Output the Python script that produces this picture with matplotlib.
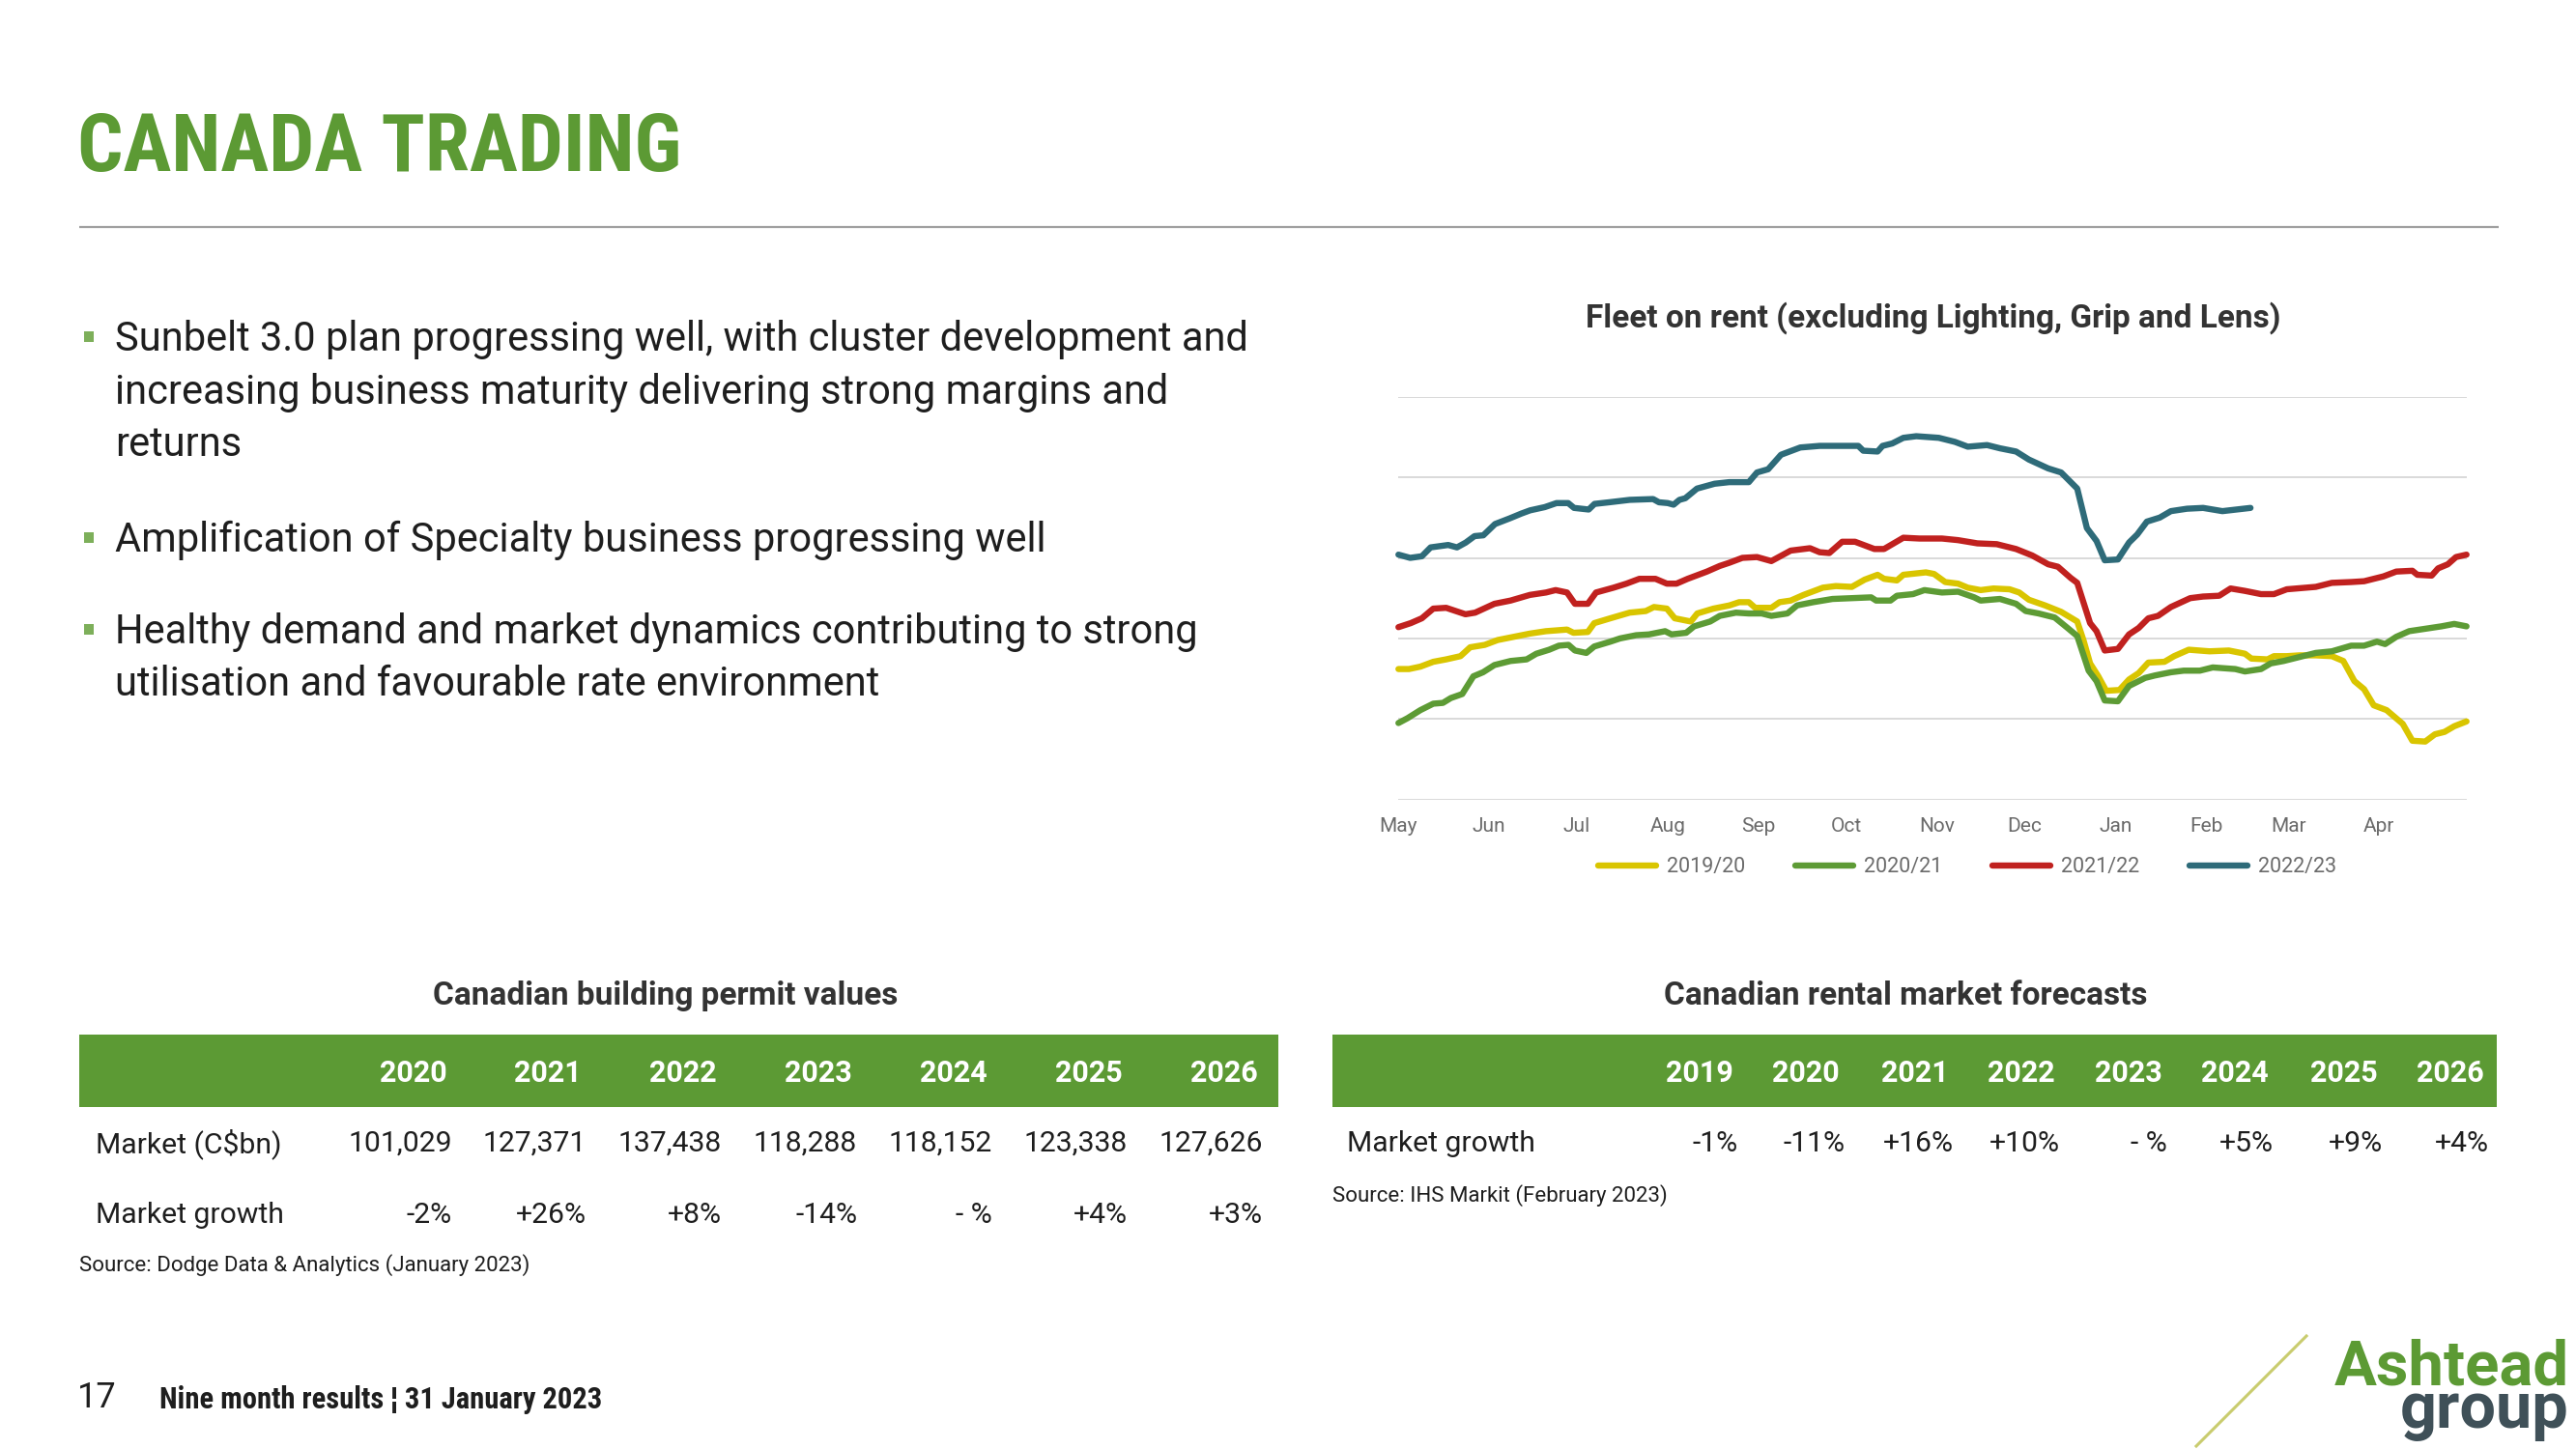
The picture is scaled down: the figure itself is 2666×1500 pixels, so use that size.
import matplotlib
matplotlib.use("Agg")
import matplotlib.pyplot as plt
from matplotlib import font_manager as fm
from matplotlib.patches import Rectangle
from matplotlib.lines import Line2D

# ---------------- data ----------------
months = ["May", "Jun", "Jul", "Aug", "Sep", "Oct", "Nov", "Dec", "Jan", "Feb", "Mar", "Apr"]
month_days = [0, 31, 61, 92, 123, 153, 184, 214, 245, 276, 304, 335]

series_labels = ["2019/20", "2020/21", "2021/22", "2022/23"]

d_1920 = [0, 3.6, 7.5, 11.9, 16.3, 21.2, 24.5, 29.5, 33.9, 39.4, 44.9, 50.4, 57.6, 59.8, 64.7, 66.9,
          72.4, 79, 84.5, 87.3, 91.7, 94.4, 99.9, 102.1, 107.6, 113.1, 116.4, 119.7, 121.9, 127.4,
          130.2, 134, 138.4, 145, 149.4, 154.9, 159.3, 163.7, 165.9, 170.3, 172.5, 180.2, 183,
          186.8, 191.2, 194.5, 198.9, 203.3, 208.8, 212.1, 215.4, 220.9, 226.4, 231.9, 234.1,
          236.3, 239.1, 241.8, 246.3, 249.6, 252.9, 256.2, 261.7, 265, 270, 277.1, 283.7, 289.2,
          291.4, 296.9, 299.1, 303.5, 307.9, 313.4, 318.9, 322.8, 326.6, 329.9, 333.2, 337.6,
          343.1, 346.4, 350.8, 354.1, 357.4, 360.7, 364.9]
v_1920 = [1.62, 1.62, 1.65, 1.71, 1.74, 1.78, 1.89, 1.92, 1.98, 2.02, 2.06, 2.09, 2.11, 2.07, 2.08, 2.19,
          2.25, 2.32, 2.34, 2.39, 2.37, 2.25, 2.21, 2.31, 2.37, 2.41, 2.45, 2.45, 2.38, 2.38,
          2.45, 2.47, 2.54, 2.63, 2.65, 2.64, 2.73, 2.79, 2.74, 2.72, 2.79, 2.82, 2.80,
          2.70, 2.68, 2.63, 2.60, 2.62, 2.61, 2.57, 2.48, 2.41, 2.33, 2.21, 1.97,
          1.69, 1.53, 1.35, 1.36, 1.49, 1.57, 1.70, 1.71, 1.78, 1.86, 1.84, 1.85, 1.81,
          1.75, 1.74, 1.78, 1.78, 1.79, 1.79, 1.78, 1.72, 1.47, 1.37, 1.17, 1.11,
          0.94, 0.73, 0.72, 0.81, 0.84, 0.91, 0.97]

d_2021 = [0, 3.1, 7.5, 11.9, 15.2, 17.9, 21.8, 25.6, 28.9, 32.8, 38.3, 43.8, 47.1, 51.5, 54.8, 58.1,
          60.3, 64.2, 66.9, 72.4, 75.7, 81.2, 85.6, 91.1, 93.3, 98.3, 101, 106.5, 109.8, 115.3,
          119.7, 124.1, 127.4, 132.9, 136.2, 141.7, 148.3, 154.9, 161.5, 163.2, 168.1, 170.3,
          175.8, 179.7, 185.7, 191.2, 196.7, 198.9, 205.5, 211, 214.3, 218.7, 224.2, 228.6,
          231.9, 235.8, 238.5, 241.3, 245.8, 249.6, 255.1, 258.4, 263.9, 268.3, 273.8, 278.2,
          285.9, 289.2, 294.7, 298, 302.4, 307.9, 313.4, 318.9, 325.5, 329.9, 334.3, 337.1,
          340.9, 345.3, 350.8, 356.3, 360.7, 364.9]
v_2021 = [0.95, 1.01, 1.11, 1.19, 1.20, 1.26, 1.31, 1.53, 1.58, 1.67, 1.72, 1.74, 1.81, 1.86, 1.91, 1.92,
          1.85, 1.82, 1.90, 1.96, 2.00, 2.04, 2.05, 2.09, 2.05, 2.07, 2.15, 2.21, 2.28, 2.32,
          2.31, 2.31, 2.28, 2.31, 2.41, 2.45, 2.49, 2.50, 2.51, 2.47, 2.47, 2.53,
          2.55, 2.60, 2.57, 2.58, 2.51, 2.47, 2.49, 2.43, 2.34, 2.31, 2.26, 2.13,
          2.03, 1.60, 1.47, 1.23, 1.22, 1.41, 1.51, 1.54, 1.58, 1.60, 1.60, 1.64,
          1.62, 1.59, 1.62, 1.69, 1.72, 1.77, 1.82, 1.84, 1.91, 1.91, 1.96, 1.93,
          2.02, 2.09, 2.12, 2.15, 2.18, 2.15]

d_2122 = [0, 4.2, 8, 11.9, 16.3, 22.9, 26.2, 32.8, 38.3, 44.9, 50.4, 53.7, 57.6, 60.3, 64.7, 67.5,
          73.5, 77.9, 82.3, 87.8, 91.7, 95, 98.8, 105.4, 109.8, 113.1, 117.5, 122.5, 127.4, 134,
          140.6, 143.9, 147.2, 151.6, 156, 162.6, 165.9, 172.5, 178, 185.7, 191.2, 197.8, 204.4,
          211, 216.5, 222, 225.3, 229.7, 231.9, 236.3, 238.5, 241.3, 245.8, 249.6, 252.9, 256.2,
          259.5, 263.9, 270.5, 274.9, 280.4, 284.3, 289.2, 294.7, 299.1, 303.5, 313.4, 318.9,
          325.5, 329.9, 336.5, 340.9, 346.4, 348.1, 353, 355.2, 358.5, 361.3, 364.9]
v_2122 = [2.14, 2.19, 2.25, 2.37, 2.38, 2.30, 2.32, 2.43, 2.47, 2.54, 2.57, 2.60, 2.57, 2.43, 2.43, 2.57,
          2.63, 2.68, 2.74, 2.74, 2.68, 2.68, 2.74, 2.83, 2.90, 2.94, 3.00, 3.01, 2.96, 3.09,
          3.12, 3.07, 3.06, 3.20, 3.20, 3.11, 3.11, 3.25, 3.24, 3.24, 3.22, 3.18, 3.17,
          3.11, 3.03, 2.92, 2.89, 2.75, 2.69, 2.19, 2.09, 1.85, 1.87, 2.05, 2.13, 2.25,
          2.28, 2.39, 2.50, 2.52, 2.53, 2.62, 2.59, 2.55, 2.55, 2.61, 2.64, 2.69,
          2.70, 2.71, 2.77, 2.83, 2.84, 2.79, 2.78, 2.87, 2.92, 3.01, 3.04]

d_2223 = [0, 4, 8, 11, 17, 20, 23, 26, 29, 33, 38, 42, 45, 50, 54, 58, 60, 65, 67, 72, 79, 87, 89,
          92, 94, 96, 98, 102, 108, 113, 119.7, 122.5, 126.3, 130.7, 137.3, 143.9, 157.1, 158.8,
          163.7, 165.4, 168.7, 172.5, 176.9, 184.6, 190.1, 194.5, 201.1, 205.5, 211, 215.4, 222,
          226.4, 229.7, 231.9, 235.2, 238.5, 241.3, 245.8, 249.6, 252.4, 255.7, 260.1, 263.9,
          269.4, 274.9, 281.5, 291.1]
v_2223 = [3.04, 3.00, 3.02, 3.13, 3.16, 3.13, 3.19, 3.27, 3.28, 3.42, 3.49, 3.55, 3.59, 3.63, 3.68,
          3.68, 3.62, 3.60, 3.67, 3.69, 3.72, 3.73, 3.69, 3.68, 3.66, 3.72, 3.74, 3.86, 3.92, 3.94,
          3.94, 4.06, 4.10, 4.28, 4.37, 4.39, 4.39, 4.33, 4.32, 4.39, 4.42, 4.49, 4.51, 4.49, 4.44,
          4.38, 4.40, 4.36, 4.32, 4.22, 4.11, 4.06, 3.94, 3.86, 3.37, 3.21, 2.97, 2.98, 3.19, 3.29,
          3.45, 3.50, 3.58, 3.61, 3.62, 3.58, 3.62]

series_days = [d_1920, d_2021, d_2122, d_2223]
series_vals = [v_1920, v_2021, v_2122, v_2223]
series_colors = ["#D9C500", "#5D9B35", "#C0211F", "#2E6B79"]

bullets = [
    ["Sunbelt 3.0 plan progressing well, with cluster development and",
     "increasing business maturity delivering strong margins and",
     "returns"],
    ["Amplification of Specialty business progressing well"],
    ["Healthy demand and market dynamics contributing to strong",
     "utilisation and favourable rate environment"],
]

permit_years = ["2020", "2021", "2022", "2023", "2024", "2025", "2026"]
permit_market = ["101,029", "127,371", "137,438", "118,288", "118,152", "123,338", "127,626"]
permit_growth = ["-2%", "+26%", "+8%", "-14%", "- %", "+4%", "+3%"]

rental_years = ["2019", "2020", "2021", "2022", "2023", "2024", "2025", "2026"]
rental_growth = ["-1%", "-11%", "+16%", "+10%", "- %", "+5%", "+9%", "+4%"]

# ---------------- fonts ----------------
names = {f.name for f in fm.fontManager.ttflist}
COND = next((n for n in ["Roboto Condensed", "Liberation Sans Narrow"] if n in names), "Roboto")
BASE = "Roboto"
plt.rcParams["font.family"] = [BASE, "DejaVu Sans"]

GREEN = "#5C9A34"
DARK = "#1E1E1E"

W, H = 2666, 1500
fig = plt.figure(figsize=(W / 100, H / 100), dpi=100)
fig.patch.set_facecolor("white")

ov = fig.add_axes([0, 0, 1, 1])
ov.set_xlim(0, W)
ov.set_ylim(H, 0)
ov.set_xticks([])
ov.set_yticks([])
ov.axis("off")

# title + rule
cond_title_size = 60 if COND != "Roboto" else 52
ov.text(80, 155, "CANADA TRADING", family=[COND, "DejaVu Sans"], fontweight="bold",
        fontsize=cond_title_size, color=GREEN, ha="left", va="center")
ov.plot([82, 2586], [235, 235], color="#A0A0A0", lw=1.6, solid_capstyle="butt")

# bullets
line_y = [[352, 406.5, 461], [559.5], [654.5, 709]]
for blines, ys in zip(bullets, line_y):
    ov.add_patch(Rectangle((87, ys[0] - 9), 10, 11, color="#7DAF5A", lw=0))
    for t, y in zip(blines, ys):
        ov.text(119, y, t, fontsize=30, color=DARK, ha="left", va="center")

# chart title
ov.text(2001, 329, "Fleet on rent (excluding Lighting, Grip and Lens)", fontsize=24,
        fontweight="bold", color="#333333", ha="center", va="center")

# chart
ax = fig.add_axes([1447.3 / W, 1 - 827.7 / H, 1105.7 / W, 417 / H])
ax.set_facecolor("none")
for dd, vv, c, lab in zip(series_days, series_vals, series_colors, series_labels):
    ax.plot(dd, vv, color=c, lw=4.6, label=lab, solid_capstyle="round",
            solid_joinstyle="round", clip_on=False)
ax.set_xlim(0, 365)
ax.set_ylim(0, 5)
ax.set_yticks(range(6))
ax.set_yticklabels([])
ax.yaxis.grid(True, color="#D9D9D9", lw=1.4)
ax.set_axisbelow(True)
ax.tick_params(axis="y", length=0, labelleft=False)
ax.set_xticks(month_days)
ax.set_xticklabels(months)
ax.tick_params(axis="x", length=0, pad=13, labelsize=15, labelcolor="#6B6B6B")
for s in ax.spines.values():
    s.set_visible(False)
fig.legend(loc="center", bbox_to_anchor=(2036 / W, 1 - 898 / H), bbox_transform=fig.transFigure,
           ncol=4, frameon=False, fontsize=15.5, labelcolor="#6B6B6B", handlelength=2.8,
           handletextpad=0.5, columnspacing=2.4)

# ---------------- tables ----------------
TS = 21.7
# left table
ov.text(689, 1031, "Canadian building permit values", fontsize=24, fontweight="bold",
        color="#333333", ha="center", va="center")
ov.add_patch(Rectangle((82, 1071), 1241, 75, color=GREEN, lw=0))
left_right = [468, 607, 747, 887, 1027, 1167, 1307]
for x, yr, m, g in zip(left_right, permit_years, permit_market, permit_growth):
    ov.text(x - 5, 1111, yr, fontsize=22, fontweight="bold", color="white", ha="right", va="center")
    ov.text(x, 1184, m, fontsize=TS, color=DARK, ha="right", va="center")
    ov.text(x, 1258, g, fontsize=TS, color=DARK, ha="right", va="center")
ov.text(99, 1184, "Market (C$bn)", fontsize=TS, color=DARK, ha="left", va="center")
ov.text(99, 1258, "Market growth", fontsize=TS, color=DARK, ha="left", va="center")
ov.text(82, 1310, "Source: Dodge Data & Analytics (January 2023)", fontsize=16, color=DARK,
        ha="left", va="center")

# right table
ov.text(1972, 1031, "Canadian rental market forecasts", fontsize=24, fontweight="bold",
        color="#333333", ha="center", va="center")
ov.add_patch(Rectangle((1379, 1071), 1205, 75, color=GREEN, lw=0))
right_right = [1799, 1909, 2022, 2132, 2243, 2353, 2466, 2576]
for x, yr, g in zip(right_right, rental_years, rental_growth):
    ov.text(x - 5, 1111, yr, fontsize=22, fontweight="bold", color="white", ha="right", va="center")
    ov.text(x, 1184, g, fontsize=TS, color=DARK, ha="right", va="center")
ov.text(1394, 1184, "Market growth", fontsize=TS, color=DARK, ha="left", va="center")
ov.text(1379, 1238, "Source: IHS Markit (February 2023)", fontsize=16, color=DARK,
        ha="left", va="center")

# footer
ov.text(80, 1447, "17", fontsize=26, color=DARK, ha="left", va="center")
ov.text(165, 1449, "Nine month results \u00a6 31 January 2023", family=[COND, "DejaVu Sans"],
        fontweight="bold", fontsize=22 if COND != "Roboto" else 19, color=DARK, ha="left", va="center")

# logo
ov.add_line(Line2D([2273, 2387], [1497, 1383], color="#C9CC6E", lw=2.2))
ov.text(2659, 1433, "Ashtead", fontsize=47, fontweight="bold", color=GREEN, ha="right", va="baseline")
ov.text(2659, 1478, "group", fontsize=48, fontweight="bold", color="#3F5058", ha="right", va="baseline")

fig.savefig("out.png", dpi=100, facecolor="white")
